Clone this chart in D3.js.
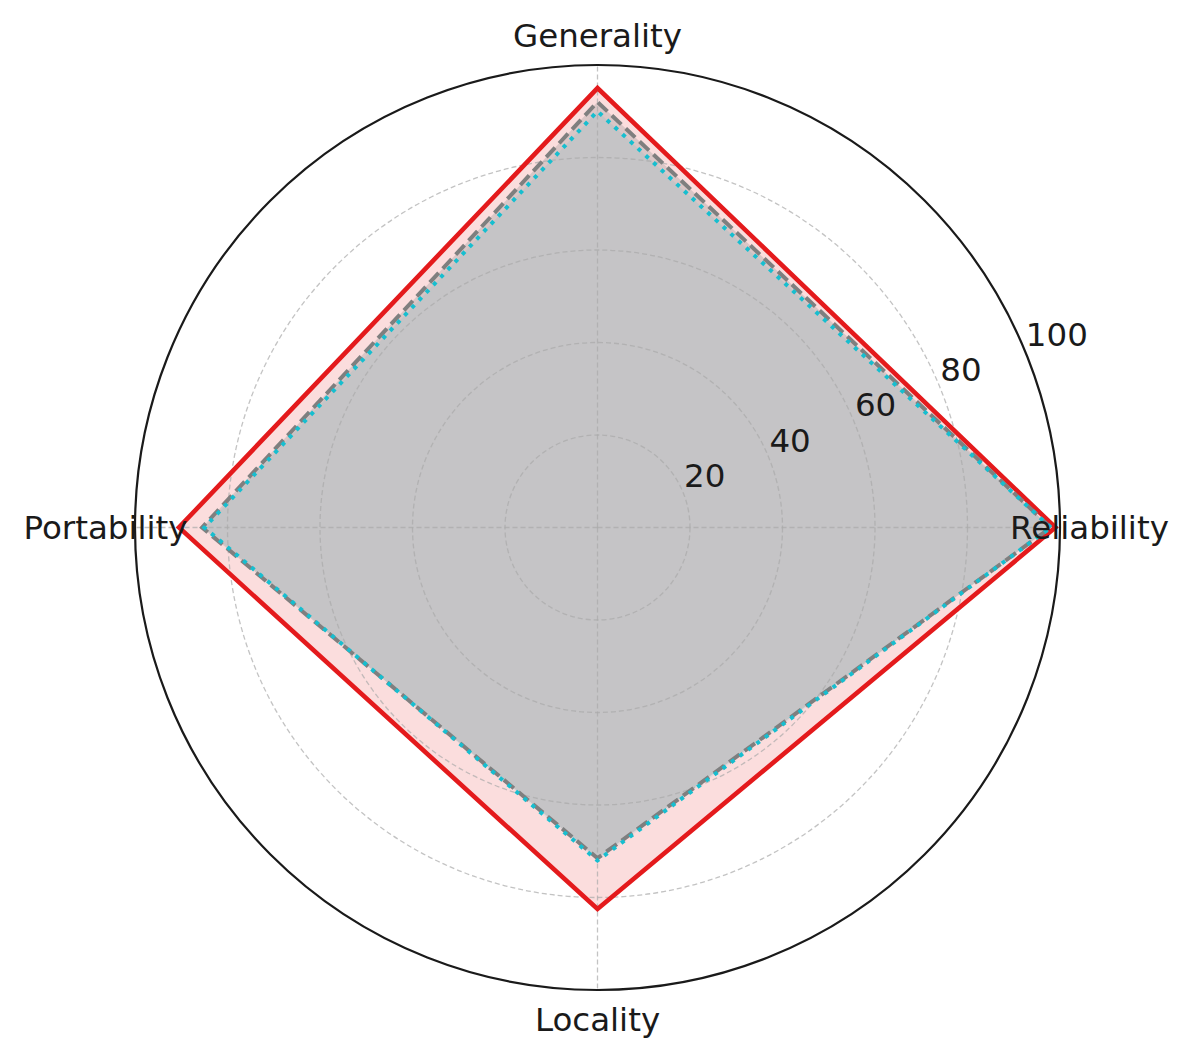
<!DOCTYPE html>
<html lang="en">
  <head>
    <meta charset="UTF-8" />
    <title>Radar chart</title>
    <script src="https://d3js.org/d3.v7.min.js"></script>
    <style>
      body {
        margin: 0;
        background-color: #FFFFFF;
        font-family: "DejaVu Sans", sans-serif;
      }
    </style>
  </head>
  <body>
    <div id="my_dataviz"></div>
    <script>
      // data
      var categories = ["Reliability", "Generality", "Portability", "Locality"];
      var radialTicks = [20, 40, 60, 80, 100];
      var redValues = [99, 95, 90.5, 82.5];
      var grayValues = [98, 92, 85.5, 71.5];
      var cyanValues = [98, 90, 85, 72];

      // size of the picture
      var width = 1190,
        height = 1057,
        cx = 597.5,
        cy = 527.5,
        outer = 462.5;

      var svg = d3
        .select("#my_dataviz")
        .append("svg")
        .attr("width", width)
        .attr("height", height);

      svg.append("rect").attr("width", width).attr("height", height).attr("fill", "#fff");

      var g = svg.append("g").attr("transform", "translate(" + cx + "," + cy + ")");

      // radius scale
      var r = d3.scaleLinear().domain([0, 100]).range([0, outer]);

      // angle for each category: east, north, west, south (counter clockwise)
      var angle = d3
        .scaleOrdinal()
        .domain(categories)
        .range(categories.map(function (d, i) {
          return Math.PI / 2 - (i * Math.PI) / 2;
        }));

      var radarLine = d3
        .lineRadial()
        .angle(function (d, i) { return angle(categories[i]); })
        .radius(function (d) { return r(d); })
        .curve(d3.curveLinearClosed);

      var series = [
        { name: "red", values: redValues, stroke: "#e41a1c", fill: "#e41a1c", fillOpacity: 0.15, width: 4.6, dash: null },
        { name: "gray", values: grayValues, stroke: "#7f7f7f", fill: "#999999", fillOpacity: 0.33, width: 4, dash: "13,6" },
        { name: "cyan", values: cyanValues, stroke: "#17becf", fill: "#17becf", fillOpacity: 0.1, width: 4, dash: "4,6.5" }
      ];

      // fills first
      g.selectAll(".area")
        .data(series)
        .enter()
        .append("path")
        .attr("class", "area")
        .attr("d", function (d) { return radarLine(d.values); })
        .attr("fill", function (d) { return d.fill; })
        .attr("fill-opacity", function (d) { return d.fillOpacity; })
        .attr("stroke", "none");

      // grid circles
      g.selectAll(".gridcircle")
        .data(radialTicks.slice(0, -1))
        .enter()
        .append("circle")
        .attr("r", function (d) { return r(d); })
        .attr("fill", "none")
        .attr("stroke", "#aaaaaa")
        .attr("stroke-opacity", 0.7)
        .attr("stroke-width", 1.3)
        .attr("stroke-dasharray", "5,3");

      // spokes
      g.selectAll(".spoke")
        .data(categories)
        .enter()
        .append("line")
        .attr("x1", 0)
        .attr("y1", 0)
        .attr("x2", function (d) { return r(100) * Math.sin(angle(d)); })
        .attr("y2", function (d) { return -r(100) * Math.cos(angle(d)); })
        .attr("stroke", "#aaaaaa")
        .attr("stroke-opacity", 0.7)
        .attr("stroke-width", 1.3)
        .attr("stroke-dasharray", "5,3");

      // outlines
      g.selectAll(".outline")
        .data(series)
        .enter()
        .append("path")
        .attr("class", "outline")
        .attr("d", function (d) { return radarLine(d.values); })
        .attr("fill", "none")
        .attr("stroke", function (d) { return d.stroke; })
        .attr("stroke-width", function (d) { return d.width; })
        .attr("stroke-dasharray", function (d) { return d.dash; })
        .attr("stroke-linejoin", "miter");

      // outer circle
      g.append("circle")
        .attr("r", r(100))
        .attr("fill", "none")
        .attr("stroke", "#1a1a1a")
        .attr("stroke-width", 2.2);

      // radial tick labels at 22.5 degrees
      var labelAngle = (22.5 * Math.PI) / 180;
      g.selectAll(".rtick")
        .data(radialTicks)
        .enter()
        .append("text")
        .attr("x", function (d) { return r(d) * Math.cos(labelAngle) + 1; })
        .attr("y", function (d) { return -r(d) * Math.sin(labelAngle) - 5; })
        .attr("text-anchor", "start")
        .style("font-size", "32.5px")
        .attr("fill", "#1a1a1a")
        .text(function (d) { return d; });

      // category labels
      g.selectAll(".catlabel")
        .data(categories)
        .enter()
        .append("text")
        .attr("x", function (d) { return 492 * Math.sin(angle(d)); })
        .attr("y", function (d) { return -492 * Math.cos(angle(d)); })
        .attr("text-anchor", "middle")
        .attr("dominant-baseline", "central")
        .style("font-size", "32.5px")
        .attr("fill", "#1a1a1a")
        .text(function (d) { return d; });
    </script>
  </body>
</html>
